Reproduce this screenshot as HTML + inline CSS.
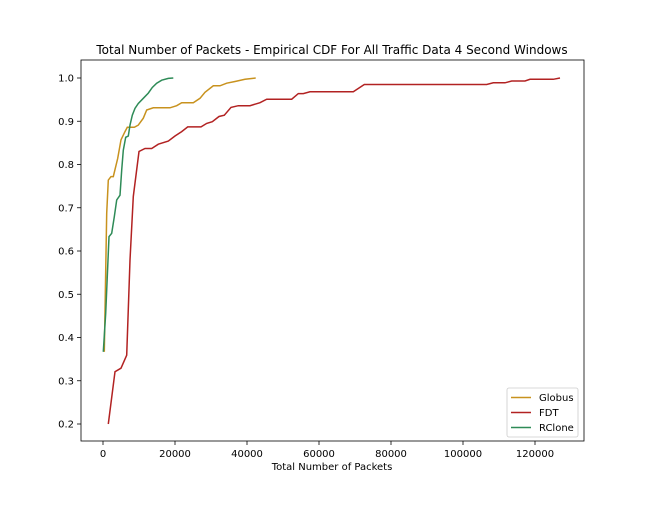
<!DOCTYPE html>
<html><head><meta charset="utf-8"><style>
body{margin:0;background:#fff;}
svg text{font-family:"DejaVu Sans","Liberation Sans",sans-serif;fill:#000;}
</style></head><body>
<svg id="chart" width="648" height="504"></svg>
<script>
const xTicks=[0,20000,40000,60000,80000,100000,120000];
const yTicks=[0.2,0.3,0.4,0.5,0.6,0.7,0.8,0.9,1.0];
const seriesNames=["Globus","FDT","RClone"];
const globusX=[370,1019,1481,2222,2870,4074,5000,6111,6759,8704,9815,11204,12130,13981,18611,20463,21852,25093,26944,28333,30648,32500,34352,36667,39444,42407];
const globusY=[0.367,0.687,0.764,0.772,0.772,0.814,0.857,0.876,0.886,0.886,0.891,0.907,0.926,0.931,0.931,0.936,0.943,0.943,0.953,0.967,0.982,0.982,0.988,0.992,0.997,1.0];
const fdtX=[1481,3333,5000,6574,7500,8426,10000,11667,13519,15370,18148,20000,21852,23519,27222,28796,30370,32222,33704,35556,37593,40833,43611,45463,52407,54259,55648,57500,69537,72593,106574,108426,111667,113519,117222,118611,125093,126944];
const fdtY=[0.2,0.321,0.329,0.359,0.579,0.726,0.830,0.837,0.837,0.847,0.854,0.866,0.876,0.887,0.887,0.895,0.899,0.911,0.914,0.932,0.936,0.936,0.943,0.951,0.951,0.964,0.964,0.968,0.968,0.985,0.985,0.989,0.989,0.993,0.993,0.997,0.997,1.0];
const rcloneX=[93,741,1667,2407,3148,3796,4722,5185,5648,6296,7037,7500,8148,8889,9815,11204,12593,13704,14907,16296,18148,19537];
const rcloneY=[0.367,0.456,0.633,0.641,0.679,0.718,0.729,0.787,0.833,0.863,0.866,0.891,0.914,0.930,0.941,0.953,0.965,0.978,0.988,0.995,0.999,1.0];
const colors=["#c8921e","#b22222","#2e8b57"];

const svg=document.getElementById('chart');
const NS='http://www.w3.org/2000/svg';
const L=81,R=584,T=60,B=441;
function sx(v){return 103+v*0.0036;}
function sy(v){return 78+(1.0-v)*432.5;}
function mk(tag,attrs,parent){const e=document.createElementNS(NS,tag);for(const k in attrs)e.setAttribute(k,attrs[k]);(parent||svg).appendChild(e);return e;}

const title=mk('text',{x:332,y:54,'text-anchor':'middle','font-size':12});


title.textContent='Total Number of Packets - Empirical CDF For All Traffic Data 4 Second Windows';

xTicks.forEach(t=>{
  const x=sx(t);
  const ln=mk('line',{x1:x,x2:x,y1:B,y2:B+4,stroke:'#000','stroke-width':0.8});
  
  
  const tx=mk('text',{x:x,y:B+16,'text-anchor':'middle','font-size':10});
  
  
  tx.textContent=String(t);
});
yTicks.forEach(t=>{
  const y=sy(t);
  const ln=mk('line',{x1:L-4,x2:L,y1:y,y2:y,stroke:'#000','stroke-width':0.8});
  
  
  const tx=mk('text',{x:L-7,y:y+3.5,'text-anchor':'end','font-size':10});
  
  
  tx.textContent=t.toFixed(1);
});
const xl=mk('text',{x:332,y:470,'text-anchor':'middle','font-size':10});


xl.textContent='Total Number of Packets';

const data=[[globusX,globusY],[fdtX,fdtY],[rcloneX,rcloneY]];
data.forEach((d,i)=>{
  const pts=d[0].map((x,j)=>sx(x).toFixed(1)+','+sy(d[1][j]).toFixed(1)).join(' ');
  const pl=mk('polyline',{points:pts,fill:'none',stroke:colors[i],'stroke-width':1.5});
  
  
});

const frame=mk('rect',{x:L,y:T,width:R-L,height:B-T,fill:'none',stroke:'#000','stroke-width':0.8});



const lg=mk('g',{});


mk('rect',{x:507,y:388,width:71,height:49,rx:2,fill:'#fff',stroke:'#ccc','stroke-width':0.8},lg);
seriesNames.forEach((n,i)=>{
  const y=397+i*15;
  const ln=mk('line',{x1:511,x2:531,y1:y+0.5,y2:y+0.5,stroke:colors[i],'stroke-width':1.5},lg);
  
  
  const tx=mk('text',{x:539,y:y+4,'font-size':10},lg);
  
  
  tx.textContent=n;
});
</script>
</body></html>
